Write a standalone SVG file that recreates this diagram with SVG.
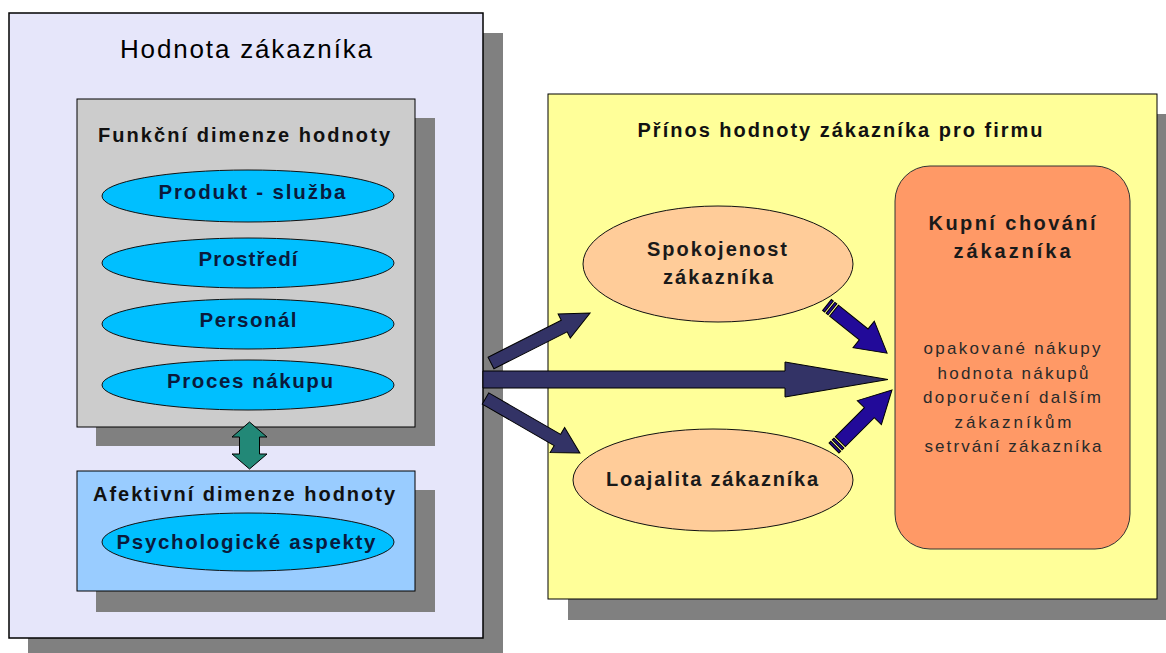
<svg xmlns="http://www.w3.org/2000/svg" width="1166" height="653" viewBox="0 0 1166 653">
  <style>
    .shadow { fill: #808080; }
    .frame { stroke: #000; stroke-width: 1.5; }
    .box { stroke: #000; stroke-width: 1; }
    .ell-blue { fill: #00bfff; stroke: #111; stroke-width: 1; }
    .ell-peach { fill: #ffcc99; stroke: #111; stroke-width: 1; }
    .navy { fill: #333366; stroke: #000; stroke-width: 1; }
    .indigo { fill: #220a99; stroke: #000; stroke-width: 1; }
    .teal { fill: #228877; stroke: #000; stroke-width: 1; }
    text { font-family: "Liberation Sans", Arial, sans-serif; text-anchor: middle; }
    .h1 { font-size: 26px; fill: #000; }
    .h2 { font-size: 20px; font-weight: bold; fill: #111; }
    .item { font-size: 20.5px; font-weight: bold; fill: #0a1a3c; }
    .peach-t { font-size: 20px; font-weight: bold; fill: #1a1a1a; }
    .body { font-size: 17px; fill: #2a2a2a; }
  </style>

  <rect width="1166" height="653" fill="#ffffff"/>

  <!-- Customer value frame -->
  <g id="hodnota-zakaznika">
    <rect class="shadow" x="28" y="33" width="475" height="625"/>
    <rect class="frame" x="9" y="13" width="474" height="625" fill="#e6e6fa"/>
    <text class="h1" x="246" y="58" textLength="252" lengthAdjust="spacing">Hodnota zákazníka</text>
  </g>

  <!-- Functional dimension -->
  <g id="funkcni-dimenze">
    <rect class="shadow" x="96" y="118" width="339" height="328"/>
    <rect class="box" x="77" y="99" width="338" height="328" fill="#cccccc"/>
    <text class="h2" x="244" y="142" textLength="292" lengthAdjust="spacing">Funkční dimenze hodnoty</text>
  </g>

  <g id="produkt-sluzba">
    <ellipse class="ell-blue" cx="248" cy="196" rx="146" ry="26"/>
    <text class="item" x="252" y="199" textLength="187" lengthAdjust="spacing">Produkt - služba</text>
  </g>
  <g id="prostredi">
    <ellipse class="ell-blue" cx="248" cy="263" rx="146" ry="25"/>
    <text class="item" x="248" y="266" textLength="99" lengthAdjust="spacing">Prostředí</text>
  </g>
  <g id="personal">
    <ellipse class="ell-blue" cx="248" cy="324" rx="146" ry="25"/>
    <text class="item" x="248" y="327" textLength="97" lengthAdjust="spacing">Personál</text>
  </g>
  <g id="proces-nakupu">
    <ellipse class="ell-blue" cx="248" cy="385" rx="146" ry="25"/>
    <text class="item" x="250" y="388" textLength="166" lengthAdjust="spacing">Proces nákupu</text>
  </g>

  <!-- Affective dimension -->
  <g id="afektivni-dimenze">
    <rect class="shadow" x="96" y="490" width="339" height="122"/>
    <rect class="box" x="77" y="471" width="338" height="120" fill="#99ccff"/>
    <text class="h2" x="244" y="501" textLength="302" lengthAdjust="spacing">Afektivní dimenze hodnoty</text>
  </g>
  <g id="psychologicke-aspekty">
    <ellipse class="ell-blue" cx="248" cy="542" rx="146" ry="29"/>
    <text class="item" x="246" y="549" textLength="259" lengthAdjust="spacing">Psychologické aspekty</text>
  </g>

  <!-- Benefit for the company -->
  <g id="prinos-pro-firmu">
    <rect class="shadow" x="568" y="114" width="609" height="506"/>
    <rect class="box" x="548" y="94" width="609" height="505" fill="#ffff99"/>
    <text class="h2" x="840" y="137" textLength="405" lengthAdjust="spacing">Přínos hodnoty zákazníka pro firmu</text>
  </g>

  <g id="spokojenost">
    <ellipse class="ell-peach" cx="718" cy="264" rx="135" ry="58"/>
    <text class="peach-t" x="717" y="256" textLength="140" lengthAdjust="spacing">Spokojenost</text>
    <text class="peach-t" x="718" y="284" textLength="110" lengthAdjust="spacing">zákazníka</text>
  </g>

  <g id="loajalita">
    <ellipse class="ell-peach" cx="713" cy="480" rx="140" ry="51"/>
    <text class="peach-t" x="712" y="486" textLength="212" lengthAdjust="spacing">Loajalita zákazníka</text>
  </g>

  <g id="kupni-chovani">
    <rect x="895" y="166" width="235" height="383" rx="35" ry="35" fill="#ff9966" stroke="#333" stroke-width="1"/>
    <text class="peach-t" x="1012" y="230" textLength="167" lengthAdjust="spacing">Kupní chování</text>
    <text class="peach-t" x="1012" y="258" textLength="117" lengthAdjust="spacing">zákazníka</text>
    <text class="body" x="1012" y="354" textLength="177" lengthAdjust="spacing">opakované nákupy</text>
    <text class="body" x="1013" y="378.5" textLength="151" lengthAdjust="spacing">hodnota nákupů</text>
    <text class="body" x="1012" y="403" textLength="178" lengthAdjust="spacing">doporučení dalším</text>
    <text class="body" x="1013" y="427.5" textLength="117" lengthAdjust="spacing">zákazníkům</text>
    <text class="body" x="1013" y="452" textLength="177" lengthAdjust="spacing">setrvání zákazníka</text>
  </g>

  <!-- Connectors -->
  <g id="connectors">
    <!-- functional <-> affective -->
    <polygon class="teal" points="249.5,422 267,437 259.5,437 259.5,454 267,454 249.5,469 232,454 239.5,454 239.5,437 232,437"/>

    <!-- value -> satisfaction -->
    <polygon class="navy" transform="translate(491,363) rotate(-26.8)"
             points="0,-6.5 82,-6.5 82,-13.5 111,0 82,13.5 82,6.5 0,6.5"/>
    <!-- value -> buying behaviour -->
    <polygon class="navy" points="483,371 785,371 785,362 888,379.5 785,397 785,388 483,388"/>
    <!-- value -> loyalty -->
    <polygon class="navy" transform="translate(485.5,398.5) rotate(30)"
             points="0,-6.5 83,-6.5 83,-14.5 109,0 83,14.5 83,6.5 0,6.5"/>

    <!-- satisfaction -> buying behaviour (striped tail) -->
    <g transform="translate(827,305) rotate(38.7)">
      <rect class="indigo" x="0" y="-7" width="2.5" height="14"/>
      <rect class="indigo" x="4.5" y="-7" width="2.5" height="14"/>
      <polygon class="indigo" points="9,-7 47,-7 47,-17 77,0 47,17 47,7 9,7"/>
    </g>
    <!-- loyalty -> buying behaviour (striped tail) -->
    <g transform="translate(834,448) rotate(-45)">
      <rect class="indigo" x="0" y="-7" width="2.5" height="14"/>
      <rect class="indigo" x="4.5" y="-7" width="2.5" height="14"/>
      <polygon class="indigo" points="9,-7 50,-7 50,-17 82,0 50,17 50,7 9,7"/>
    </g>
  </g>
</svg>
